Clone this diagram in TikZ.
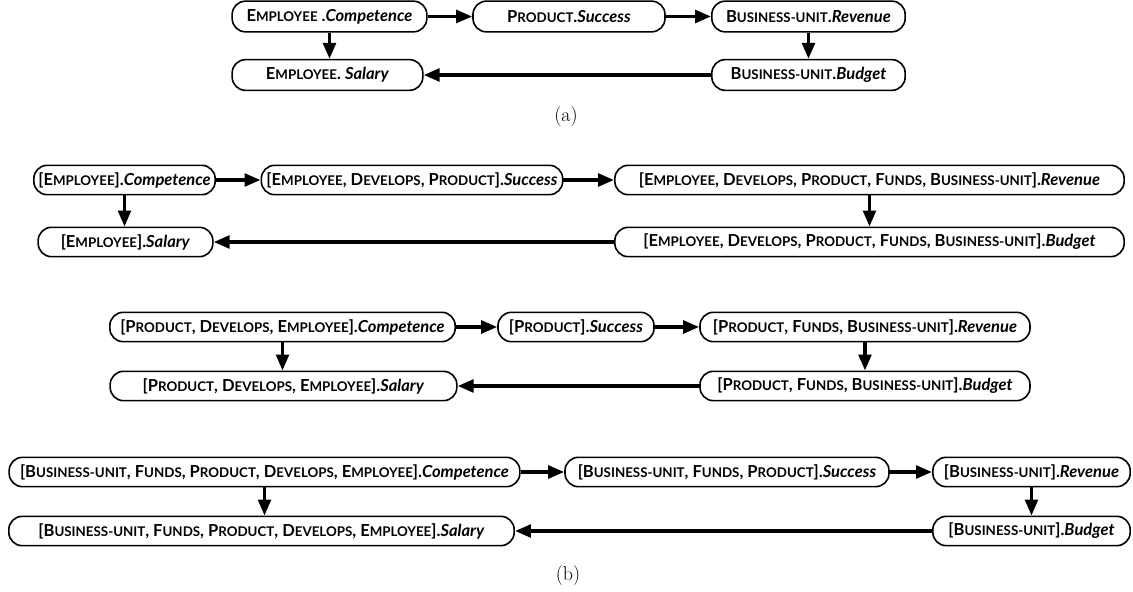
\documentclass[tikz,border=0pt]{standalone}
\usepackage{fontspec}
\usepackage{tikz}
\usetikzlibrary{arrows.meta,positioning}

\newfontfamily\attrfont{Lato}
% small caps made by hand: big first letter, rest smaller
\newcommand\kc[2]{#1{\fontsize{10}{12}\selectfont #2}}
\newcommand\att[1]{\textit{#1}}

\begin{document}
\begin{tikzpicture}[
x=0.75pt, y=-0.75pt,
attr/.style={rectangle, draw, rounded corners=10pt, line width=1.2pt, minimum height=22pt, inner xsep=3pt, inner ysep=0pt, font=\attrfont\bfseries\fontsize{12.4}{14}\selectfont},
arrow/.style={-{Triangle[length=12pt,width=9.5pt]}, line width=2.6pt},
caption/.style={font=\fontsize{15}{17}\selectfont}
]
\useasboundingbox (0,0) rectangle (1133,592);

% (a)
\node[attr, minimum width=146pt, minimum height=23pt] (compa) at (329.5,16.5) {\kc{E}{MPLOYEE} .\att{Competence}};
\node[attr, minimum width=144pt, minimum height=23pt] (succa) at (569,16.5) {\kc{P}{RODUCT}.\att{Success}};
\node[attr, minimum width=145pt, minimum height=23pt] (reva) at (808.5,16.5) {\kc{B}{USINESS-UNIT}.\att{Revenue}};
\node[attr, minimum width=143pt, minimum height=23pt] (sala) at (327.5,75) {\kc{E}{MPLOYEE}. \att{Salary}};
\node[attr, minimum width=145pt, minimum height=23pt] (buda) at (808.5,75) {\kc{B}{USINESS-UNIT}.\att{Budget}};
\node[caption] (capa) at (566,117) {(a)};

\draw[arrow] (compa) -- (succa);
\draw[arrow] (succa) -- (reva);
\draw[arrow] (compa) -- (compa.south |- sala.north);
\draw[arrow] (reva) -- (buda);
\draw[arrow] (buda) -- (sala);

% (b), employee first
\node[attr, minimum width=136pt] (comp1) at (124.5,180) {[\kc{E}{MPLOYEE}].\att{Competence}};
\node[attr, minimum width=226pt] (succ1) at (412,180) {[\kc{E}{MPLOYEE}, \kc{D}{EVELOPS}, \kc{P}{RODUCT}].\att{Success}};
\node[attr, minimum width=382pt] (rev1) at (869.5,180) {[\kc{E}{MPLOYEE}, \kc{D}{EVELOPS}, \kc{P}{RODUCT}, \kc{F}{UNDS}, \kc{B}{USINESS-UNIT}].\att{Revenue}};
\node[attr, minimum width=131pt] (sal1) at (125.5,242) {[\kc{E}{MPLOYEE}].\att{Salary}};
\node[attr, minimum width=382pt] (bud1) at (869.5,242) {[\kc{E}{MPLOYEE}, \kc{D}{EVELOPS}, \kc{P}{RODUCT}, \kc{F}{UNDS}, \kc{B}{USINESS-UNIT}].\att{Budget}};

\draw[arrow] (comp1) -- (succ1);
\draw[arrow] (succ1) -- (rev1);
\draw[arrow] (comp1) -- (comp1.south |- sal1.north);
\draw[arrow] (rev1) -- (bud1);
\draw[arrow] (bud1) -- (sal1);

% (b), product first
\node[attr, minimum width=259pt] (comp2) at (282.5,327) {[\kc{P}{RODUCT}, \kc{D}{EVELOPS}, \kc{E}{MPLOYEE}].\att{Competence}};
\node[attr, minimum width=117pt] (succ2) at (576,327) {[\kc{P}{RODUCT}].\att{Success}};
\node[attr, minimum width=247.5pt] (rev2) at (865,327) {[\kc{P}{RODUCT}, \kc{F}{UNDS}, \kc{B}{USINESS-UNIT}].\att{Revenue}};
\node[attr, minimum width=260pt] (sal2) at (283.5,386) {[\kc{P}{RODUCT}, \kc{D}{EVELOPS}, \kc{E}{MPLOYEE}].\att{Salary}};
\node[attr, minimum width=247.5pt] (bud2) at (865,386) {[\kc{P}{RODUCT}, \kc{F}{UNDS}, \kc{B}{USINESS-UNIT}].\att{Budget}};

\draw[arrow] (comp2) -- (succ2);
\draw[arrow] (succ2) -- (rev2);
\draw[arrow] (comp2) -- (comp2.south |- sal2.north);
\draw[arrow] (rev2) -- (bud2);
\draw[arrow] (bud2) -- (sal2);

% (b), business-unit first
\node[attr, minimum width=383pt] (comp3) at (264.5,472) {[\kc{B}{USINESS-UNIT}, \kc{F}{UNDS}, \kc{P}{RODUCT}, \kc{D}{EVELOPS}, \kc{E}{MPLOYEE}].\att{Competence}};
\node[attr, minimum width=243pt] (succ3) at (727,472) {[\kc{B}{USINESS-UNIT}, \kc{F}{UNDS}, \kc{P}{RODUCT}].\att{Success}};
\node[attr, minimum width=148pt] (rev3) at (1031.5,472) {[\kc{B}{USINESS-UNIT}].\att{Revenue}};
\node[attr, minimum width=379pt] (sal3) at (261.5,531) {[\kc{B}{USINESS-UNIT}, \kc{F}{UNDS}, \kc{P}{RODUCT}, \kc{D}{EVELOPS}, \kc{E}{MPLOYEE}].\att{Salary}};
\node[attr, minimum width=148pt] (bud3) at (1031.5,531) {[\kc{B}{USINESS-UNIT}].\att{Budget}};
\node[caption] (capb) at (568,576) {(b)};

\draw[arrow] (comp3) -- (succ3);
\draw[arrow] (succ3) -- (rev3);
\draw[arrow] (comp3) -- (comp3.south |- sal3.north);
\draw[arrow] (rev3) -- (bud3);
\draw[arrow] (bud3) -- (sal3);

\end{tikzpicture}
\end{document}
